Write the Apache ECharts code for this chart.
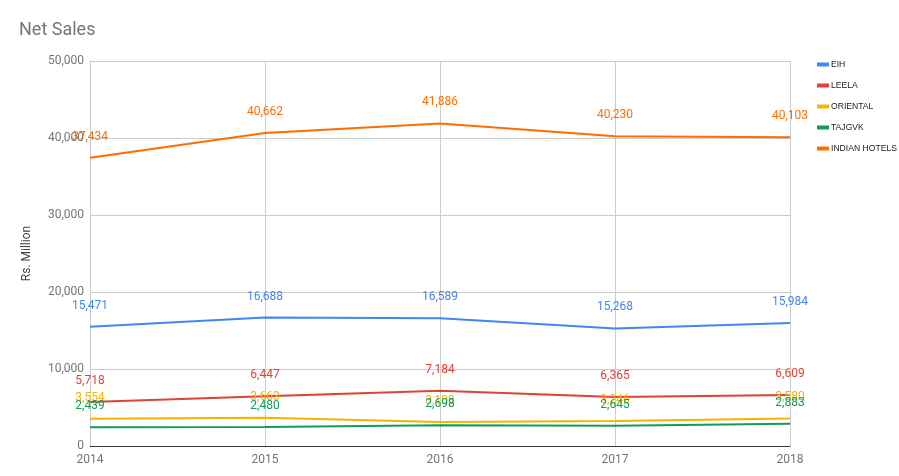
<!DOCTYPE html>
<html><head><meta charset="utf-8">
<script src="https://cdn.jsdelivr.net/npm/echarts@6/dist/echarts.min.js"></script>
<style>html,body{margin:0;padding:0;background:#fff}#c{width:899px;height:476px}</style>
</head><body><div id="c"></div>
<script>
const years = ['2014','2015','2016','2017','2018'];
const eih = [15471, 16688, 16589, 15268, 15984];
const leela = [5718, 6447, 7184, 6365, 6609];
const oriental = [3554, 3663, 3108, 3246, 3580];
const tajgvk = [2439, 2480, 2698, 2645, 2883];
const indianHotels = [37434, 40662, 41886, 40230, 40103];
const seriesNames = ['EIH','LEELA','ORIENTAL','TAJGVK','INDIAN HOTELS'];
const colors = ['#4285F4','#DB4437','#F4B400','#0F9D58','#FF6D00'];
const dataSets = [eih, leela, oriental, tajgvk, indianHotels];

const chart = echarts.init(document.getElementById('c'));
chart.setOption({
  animation: false,
  title: {text: 'Net Sales', left: 19, top: 21, padding: 0, textStyle: {fontFamily: 'Roboto', fontSize: 18, fontWeight: 'normal', color: '#757575'}},
  legend: {
    orient: 'vertical', left: 817, top: 60, padding: 0, itemGap: 12, itemWidth: 12, itemHeight: 4,
    icon: 'rect',
    textStyle: {fontFamily: 'Liberation Sans, Arial', fontSize: 8.6, color: '#222', padding: [0,0,0,-3]},
    data: seriesNames
  },
  grid: {left: 90, right: 109, top: 61, bottom: 30},
  xAxis: {
    type: 'category', data: years, boundaryGap: false,
    axisLine: {lineStyle: {color: '#333', width: 1}},
    axisTick: {show: false},
    axisLabel: {fontFamily: 'Roboto', fontSize: 12, color: '#757575', margin: 8},
    splitLine: {show: true, lineStyle: {color: '#cccccc'}}
  },
  yAxis: {
    type: 'value', min: 0, max: 50000, interval: 10000,
    name: 'Rs. Million', nameLocation: 'middle', nameGap: 57, nameRotate: 90,
    nameTextStyle: {fontFamily: 'Roboto', fontSize: 12, color: '#444'},
    axisLine: {show: true, lineStyle: {color: '#cccccc'}},
    axisTick: {show: false},
    axisLabel: {fontFamily: 'Roboto', fontSize: 12, color: '#757575', margin: 6,
      formatter: v => v.toLocaleString('en-US')},
    splitLine: {lineStyle: {color: '#cccccc'}}
  },
  series: seriesNames.map((n, i) => ({
    name: n, type: 'line', data: dataSets[i], symbol: 'circle', symbolSize: 0, showSymbol: true,
    lineStyle: {width: 2, color: colors[i]}, itemStyle: {color: colors[i]},
    label: {show: true, position: 'top', distance: 15, fontFamily: 'Roboto', fontSize: 12, color: colors[i],
      formatter: p => p.value.toLocaleString('en-US')},
    labelLayout: {hideOverlap: false}
  }))
});
</script></body></html>
